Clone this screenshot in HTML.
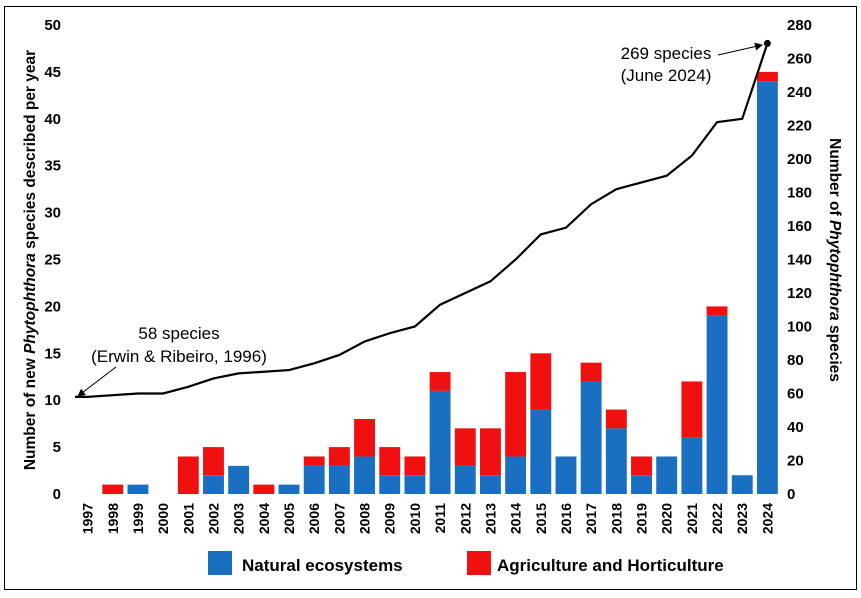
<!DOCTYPE html>
<html><head><meta charset="utf-8"><style>
body{margin:0;background:#fff;}
svg text{font-family:"Liberation Sans",Arial,sans-serif;}
</style></head><body>
<svg id="chart" width="861" height="593">
<rect x="4.5" y="6.5" width="852" height="583" fill="#fff" stroke="#000" stroke-width="1"/>
<g id="plot"></g>
</svg>
<script>
const years=['1997','1998','1999','2000','2001','2002','2003','2004','2005','2006','2007','2008','2009','2010','2011','2012','2013','2014','2015','2016','2017','2018','2019','2020','2021','2022','2023','2024'];
const natural=[0,0,1,0,0,2,3,0,1,3,3,4,2,2,11,3,2,4,9,4,12,7,2,4,6,19,2,44];
const agri=[0,1,0,0,4,3,0,1,0,1,2,4,3,2,2,4,5,9,6,0,2,2,2,0,6,1,0,1];
const cumulative=[58,59,60,60,64,69,72,73,74,78,83,91,96,100,113,120,127,140,155,159,173,182,186,190,202,222,224,269];
const startValue=58;
const leftTicks=[0,5,10,15,20,25,30,35,40,45,50];
const rightTicks=[0,20,40,60,80,100,120,140,160,180,200,220,240,260,280];
const NS='http://www.w3.org/2000/svg';
const g=document.getElementById('plot');
const X0=75,X1=780,Y0=494,Y1=25;
const band=(X1-X0)/years.length;
const xc=i=>X0+band*(i+0.5);
const yL=v=>Y0-(v/50)*(Y0-Y1);
const yR=v=>Y0-(v/280)*(Y0-Y1);
function mk(tag,attrs,txt){const e=document.createElementNS(NS,tag);for(const k in attrs)e.setAttribute(k,attrs[k]);if(txt!==undefined)e.textContent=txt;g.appendChild(e);return e;}
leftTicks.forEach(t=>{const e=mk('text',{x:61,y:yL(t)+5,'text-anchor':'end','font-size':15,'font-weight':'bold'},t);

});
rightTicks.forEach(t=>{const e=mk('text',{x:787,y:yR(t)+5,'text-anchor':'start','font-size':15,'font-weight':'bold'},t);

});
const bw=band*0.83;
years.forEach((yr,i)=>{
 if(natural[i]>0){const r=mk('rect',{x:xc(i)-bw/2,y:yL(natural[i]),width:bw,height:Y0-yL(natural[i]),fill:'#1a6fc0'});
 
 }
 if(agri[i]>0){const r=mk('rect',{x:xc(i)-bw/2,y:yL(natural[i]+agri[i]),width:bw,height:yL(natural[i])-yL(natural[i]+agri[i]),fill:'#f01010'});
 
 }
 const t=mk('text',{x:0,y:0,'font-size':14,'font-weight':'bold','text-anchor':'end',transform:`translate(${xc(i)+5},503) rotate(-90)`},yr);
 
 
});
let pts=[[X0,yR(startValue)]];
cumulative.forEach((v,i)=>pts.push([xc(i),yR(v)]));
const line=mk('polyline',{points:pts.map(p=>p.join(',')).join(' '),fill:'none',stroke:'#000','stroke-width':2.2});


const last=cumulative.length-1;
const dot=mk('circle',{cx:xc(last),cy:yR(cumulative[last]),r:3.5,fill:'#000'});


</script>
<svg width="861" height="593" style="position:absolute;left:0;top:0">
<defs><marker id="ah" markerWidth="8" markerHeight="8" refX="7" refY="4" orient="auto"><path d="M0,0 L8,4 L0,8 z" fill="#000"/></marker></defs>
<text x="179" y="339" font-size="17" text-anchor="middle" font-family="Liberation Sans,sans-serif">58 species</text>
<text x="179" y="362" font-size="17" text-anchor="middle" font-family="Liberation Sans,sans-serif">(Erwin &amp; Ribeiro, 1996)</text>
<line x1="116" y1="367" x2="78" y2="396" stroke="#000" stroke-width="1" marker-end="url(#ah)"/>
<text x="666" y="59" font-size="17" text-anchor="middle" font-family="Liberation Sans,sans-serif">269 species</text>
<text x="666" y="81" font-size="17" text-anchor="middle" font-family="Liberation Sans,sans-serif">(June 2024)</text>
<line x1="718" y1="55" x2="762" y2="45" stroke="#000" stroke-width="1" marker-end="url(#ah)"/>
<text transform="translate(35,260) rotate(-90)" font-size="15.5" font-weight="bold" text-anchor="middle" font-family="Liberation Sans,sans-serif">Number of new <tspan font-style="italic">Phytophthora</tspan> species described per year</text>
<text transform="translate(830,260) rotate(90)" font-size="15.5" font-weight="bold" text-anchor="middle" font-family="Liberation Sans,sans-serif">Number of <tspan font-style="italic">Phytophthora</tspan> species</text>
<rect x="208" y="551" width="24" height="24" fill="#1a6fc0"/>
<text x="242" y="571" font-size="17" font-weight="bold" font-family="Liberation Sans,sans-serif">Natural ecosystems</text>
<rect x="467" y="551" width="24" height="24" fill="#f01010"/>
<text x="497" y="571" font-size="17" font-weight="bold" font-family="Liberation Sans,sans-serif">Agriculture and Horticulture</text>
</svg>
</body></html>
